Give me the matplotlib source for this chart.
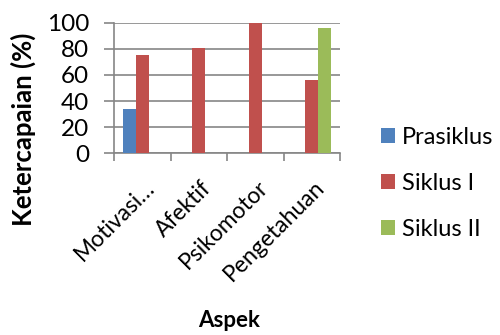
import matplotlib
matplotlib.use('Agg')
from matplotlib import pyplot as plt
import numpy as np

plt.rcParams['font.family'] = ['Lato', 'DejaVu Sans']

# data
aspek = ['Motivasi…', 'Afektif', 'Psikomotor', 'Pengetahuan']
series_names = ['Prasiklus', 'Siklus I', 'Siklus II']
prasiklus = [34, 0, 0, 0]
siklus_1 = [75, 81, 100, 56]
siklus_2 = [0, 0, 0, 96]
y_ticks = [0, 20, 40, 60, 80, 100]

colors = ['#4F81BD', '#C0504D', '#9BBB59']
grid_col = '#868686'

fig = plt.figure(figsize=(5, 3.35), dpi=100)
ax = fig.add_axes([0.228, 0.5424, 0.452, 0.3898])

xs = np.arange(len(aspek))
w = 1 / 4.5
for i, (vals, name) in enumerate(zip([prasiklus, siklus_1, siklus_2], series_names)):
    ax.bar(xs + (i - 1) * w, vals, w, color=colors[i], label=name, zorder=3)

ax.set_xlim(-0.5, len(aspek) - 0.5)
ax.set_ylim(0, 100)
ax.set_yticks(y_ticks)
ax.yaxis.grid(True, color=grid_col, linewidth=1.2, zorder=0)

# category boundaries get the tick marks, names sit in between
ax.set_xticks(np.arange(len(aspek) + 1) - 0.5, minor=False)
ax.set_xticklabels([])
ax.set_xticks(xs + 0.03, minor=True)
ax.set_xticklabels(aspek, minor=True, rotation=45, ha='right',
                   rotation_mode='anchor', fontsize=16.5)
ax.tick_params(axis='x', which='minor', length=0, pad=17)
ax.tick_params(axis='x', which='major', length=6, color=grid_col, width=1.2)
ax.tick_params(axis='y', length=7, color=grid_col, width=1.2, labelsize=17.5, pad=11)

for s in ['top', 'right']:
    ax.spines[s].set_visible(False)
for s in ['left', 'bottom']:
    ax.spines[s].set_color(grid_col)
    ax.spines[s].set_linewidth(1.2)

ax.set_ylabel('Ketercapaian (%)', fontsize=18.5, fontweight='bold')
ax.yaxis.set_label_coords(-0.345, 0.18)
fig.text(0.458, 0.025, 'Aspek', fontsize=16, fontweight='bold', ha='center',
         va='baseline')

ax.legend(loc='center left', bbox_to_anchor=(1.18, -0.23), frameon=False,
          fontsize=17, handlelength=0.6, handleheight=0.6, labelspacing=1.05,
          handletextpad=0.3, borderpad=0, borderaxespad=0)

fig.savefig('out.png', dpi=100)
